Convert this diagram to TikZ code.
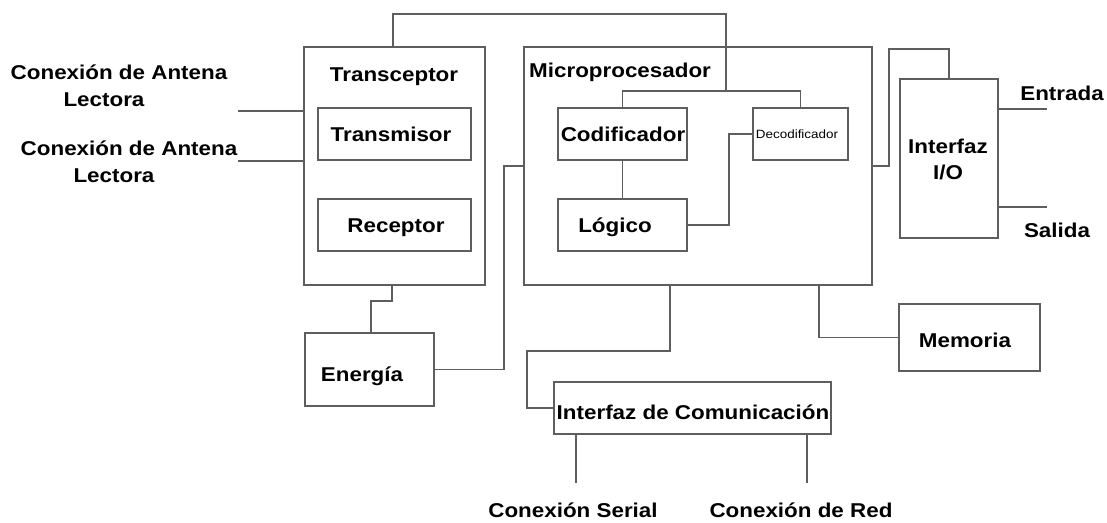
\documentclass[tikz,border=0pt]{standalone}
\usepackage{fontspec}
\setmainfont{Liberation Sans}[FakeStretch=1.12]
\usetikzlibrary{calc}
\tikzset{
  box/.style={draw=linegray, line width=1.8pt, inner sep=0pt, fill=none},
  wire/.style={draw=linegray, line width=1.8pt, line cap=rect},
  lbl/.style={anchor=base, inner sep=0pt, font=\fontsize{20}{22}\selectfont\bfseries, text=black},
}
\definecolor{linegray}{HTML}{5E5E5E}
\begin{document}
\begin{tikzpicture}[x=1pt,y=-1pt]
\useasboundingbox (0,0) rectangle (1107,522);
% boxes
\node[box, minimum width=181pt, minimum height=238pt] (trans) at (394.5,166) {};
\node[box, minimum width=153pt, minimum height=52pt] (tx) at (394.5,134) {};
\node[box, minimum width=153pt, minimum height=52pt] (rx) at (394.5,225) {};
\node[box, minimum width=348pt, minimum height=238pt] (micro) at (698,166) {};
\node[box, minimum width=129pt, minimum height=52pt] (cod) at (622.5,134) {};
\node[box, minimum width=129pt, minimum height=52pt] (log) at (622.5,225) {};
\node[box, minimum width=95pt, minimum height=52pt] (dec) at (800.5,134) {};
\node[box, minimum width=98pt, minimum height=159pt] (io) at (949,158.5) {};
\node[box, minimum width=129pt, minimum height=73pt] (ener) at (369.5,369.5) {};
\node[box, minimum width=141pt, minimum height=67pt] (mem) at (969.5,337.5) {};
\node[box, minimum width=277pt, minimum height=52pt] (com) at (692.5,408) {};
% labels
\node[lbl] (la1) at (119,79) {Conexión de Antena};
\node[lbl] (la2) at (104,106) {Lectora};
\node[lbl] (lb1) at (129,155) {Conexión de Antena};
\node[lbl] (lb2) at (114,182) {Lectora};
\node[lbl] (ttrans) at (394,81) {Transceptor};
\node[lbl] (ttx) at (391,141) {Transmisor};
\node[lbl] (trx) at (396,232) {Receptor};
\node[lbl, anchor=base west] (tmicro) at (529,77) {Microprocesador};
\node[lbl] (tcod) at (623,141) {Codificador};
\node[lbl] (tlog) at (615,232) {Lógico};
\node[anchor=center, inner sep=0pt, font=\fontsize{12}{13}\selectfont, text=black] (tdec) at (797,134) {Decodificador};
\node[lbl] (tio1) at (948,153) {Interfaz};
\node[lbl] (tio2) at (948,179) {I/O};
\node[lbl] (tent) at (1062,100) {Entrada};
\node[lbl] (tsal) at (1057,237) {Salida};
\node[lbl] (tener) at (362,381) {Energía};
\node[lbl] (tmem) at (965,347) {Memoria};
\node[lbl] (tcom) at (693,419) {Interfaz de Comunicación};
\node[lbl] (tser) at (573,517) {Conexión Serial};
\node[lbl] (tred) at (801,517) {Conexión de Red};
% free ends
\coordinate (ant1) at (239,111);
\coordinate (ant2) at (239,161);
\coordinate (top) at (726,14);
\coordinate (j1) at (726,91);
\coordinate (c49) at (949,49);
\coordinate (ent) at (1046,109);
\coordinate (sal) at (1046,207);
\coordinate (ser) at (576,482);
\coordinate (red) at (807,482);
% connectors
\draw[wire] (ant1) -- (ant1 -| trans.west);
\draw[wire] (ant2) -- (ant2 -| trans.west);
\draw[wire] ([xshift=-1.5pt]trans.north) |- (top) -- (j1);
\draw[wire] (cod.north) |- (dec.north |- j1) -- (dec.north);
\draw[wire] (cod.south) -- (log.north);
\draw[wire] (log.east) -- ($(log.east)+(41,0)$) |- (dec.west);
\draw[wire] (micro.east) -- ($(micro.east)+(16,0)$) |- (io.north |- c49) -- (io.north);
\draw[wire] (ent -| io.east) -- (ent);
\draw[wire] (sal -| io.east) -- (sal);
\draw[wire] ([xshift=-2.5pt]trans.south) |- ($(ener.north)+(1.5,-31)$) -- ([xshift=1.5pt]ener.north);
\draw[wire] (ener.east) -| ($(micro.west)+(-19,0)$) -- (micro.west);
\draw[wire] ($(micro.south)+(-28,0)$) |- (527,351) |- (com.west);
\draw[wire] ($(micro.south)+(121,0)$) |- (mem.west);
\draw[wire] (ser |- com.south) -- (ser);
\draw[wire] (red |- com.south) -- (red);
\end{tikzpicture}
\end{document}
